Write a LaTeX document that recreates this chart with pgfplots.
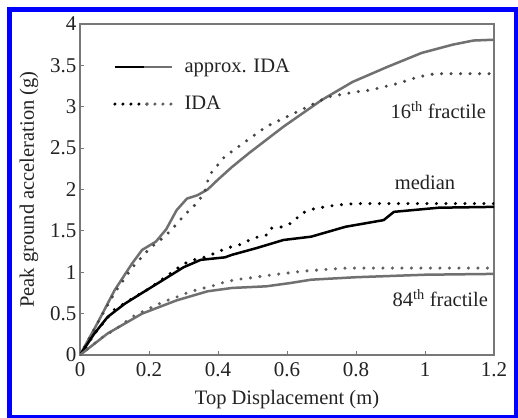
\documentclass[border=0pt]{standalone}
\usepackage{pgfplots}
\pgfplotsset{compat=1.18}
\usepackage{fontspec}
\setmainfont{Liberation Serif}
\definecolor{frameblue}{RGB}{0,0,255}
\definecolor{apgray}{RGB}{112,112,112}
\definecolor{idagray}{RGB}{70,70,70}
\definecolor{idagrayl}{RGB}{95,95,95}
\definecolor{axgray}{RGB}{120,120,120}
\definecolor{txt}{RGB}{35,35,35}
\begin{document}
\begin{tikzpicture}
\useasboundingbox (0,0) rectangle (518pt,417pt);
\fill[white] (0,0) rectangle (518pt,417pt);
\begin{axis}[
  at={(80pt,62pt)}, anchor=south west,
  scale only axis, width=414pt, height=331pt,
  xmin=0, xmax=1.2, ymin=0, ymax=4,
  xtick={0,0.2,...,1.2}, ytick={0,0.5,...,4},
  xticklabels={0,0.2,0.4,0.6,0.8,1,1.2},
  yticklabels={0,0.5,1,1.5,2,2.5,3,3.5,4},
  xtick pos=bottom, ytick pos=left, tick align=inside,
  major tick length=4pt,
  axis line style={axgray, line width=1.5pt},
  every tick/.style={axgray, line width=1pt},
  /pgf/number format/assume math mode=true,
  tick label style={font=\fontsize{21}{23}\selectfont, text=txt},
  xticklabel style={yshift=-4pt},
  label style={font=\fontsize{20.5}{23}\selectfont, text=txt},
  xlabel={Top Displacement (m)},
  ylabel={Peak ground acceleration (g)},
  xlabel style={at={(axis description cs:0.5,-0.136)}, anchor=center},
  ylabel style={at={(axis description cs:-0.123,0.5)}, anchor=center},
  legend cell align=left,
  legend style={draw=none, fill=none, at={(axis description cs:0.0797,0.814)}, anchor=west,
    inner sep=0pt, row sep=19pt, font=\fontsize{20.5}{23}\selectfont,
    nodes={inner sep=0pt, text height=14pt, text depth=4pt, text=txt},
    /tikz/every odd column/.append style={column sep=11pt}},
]
\addlegendimage{legend image code/.code={
  \draw[black, line width=2.5pt] (0pt,0pt) -- (30pt,0pt);
  \draw[apgray, line width=2.5pt] (29pt,0pt) -- (57pt,0pt);}}
\addlegendentry{approx. IDA}
\addlegendimage{legend image code/.code={
  \draw[black, line width=3.4pt, line cap=round, dash pattern=on 0pt off 8pt] (0pt,0pt) -- (33pt,0pt);
  \draw[idagrayl, line width=3.4pt, line cap=round, dash pattern=on 0pt off 8pt] (32pt,0pt) -- (57pt,0pt);}}
\addlegendentry{IDA}

% 16th fractile approx
\addplot[apgray, line width=2.5pt, forget plot] coordinates {
(0,0)(0.05,0.38)(0.1,0.78)(0.15,1.1)(0.18,1.27)(0.22,1.37)(0.25,1.52)(0.28,1.75)
(0.31,1.89)(0.34,1.93)(0.37,2.0)(0.40,2.12)(0.44,2.27)(0.49,2.44)(0.59,2.76)
(0.70,3.08)(0.79,3.30)(0.89,3.48)(0.99,3.65)(1.08,3.75)(1.14,3.80)(1.2,3.81)};
% 16th fractile IDA
\addplot[idagray, line width=3.4pt, line cap=round, dash pattern=on 0pt off 9.5pt, forget plot] coordinates {
(0,0)(0.05,0.38)(0.1,0.75)(0.15,1.05)(0.2,1.28)(0.25,1.45)(0.28,1.58)(0.30,1.68)
(0.33,1.80)(0.36,1.95)(0.37,2.10)(0.38,2.20)(0.42,2.40)(0.48,2.58)(0.54,2.76)
(0.60,2.88)(0.67,3.02)(0.72,3.12)(0.80,3.18)(0.84,3.20)(0.92,3.28)(0.98,3.36)
(1.03,3.40)(1.2,3.40)};
% median approx
\addplot[black, line width=2.5pt, forget plot] coordinates {
(0,0)(0.04,0.25)(0.08,0.46)(0.13,0.62)(0.18,0.75)(0.25,0.93)(0.30,1.06)(0.35,1.15)
(0.42,1.18)(0.44,1.21)(0.51,1.29)(0.59,1.39)(0.67,1.43)(0.77,1.55)(0.88,1.63)
(0.91,1.73)(1.04,1.78)(1.2,1.79)};
% median IDA
\addplot[black, line width=3.4pt, line cap=round, dash pattern=on 0pt off 9.5pt, forget plot] coordinates {
(0,0)(0.05,0.30)(0.1,0.55)(0.15,0.68)(0.2,0.80)(0.25,0.95)(0.30,1.10)(0.33,1.15)
(0.37,1.19)(0.40,1.25)(0.44,1.31)(0.47,1.34)(0.50,1.41)(0.54,1.45)(0.55,1.53)
(0.59,1.55)(0.62,1.61)(0.64,1.71)(0.68,1.77)(0.71,1.79)(0.74,1.81)(0.80,1.83)(1.2,1.83)};
% 84th approx
\addplot[apgray, line width=2.5pt, forget plot] coordinates {
(0,0)(0.08,0.26)(0.18,0.50)(0.28,0.66)(0.37,0.77)(0.44,0.81)(0.54,0.83)(0.61,0.87)
(0.67,0.91)(0.80,0.94)(1.0,0.97)(1.2,0.98)};
% 84th IDA
\addplot[idagrayl, line width=3.4pt, line cap=round, dash pattern=on 0pt off 9.5pt, forget plot] coordinates {
(0,0)(0.06,0.20)(0.12,0.36)(0.15,0.46)(0.18,0.52)(0.21,0.58)(0.24,0.64)(0.28,0.70)
(0.31,0.75)(0.34,0.79)(0.38,0.83)(0.41,0.87)(0.45,0.91)(0.49,0.93)(0.56,0.97)
(0.64,1.01)(0.70,1.03)(0.77,1.05)(1.2,1.05)};

\node[anchor=east, text=txt, font=\fontsize{20.5}{23}\selectfont, inner sep=0pt] at (axis cs:1.177,2.96) {16\textsuperscript{th} fractile};
\node[text=txt, font=\fontsize{20.5}{23}\selectfont, inner sep=0pt] at (axis cs:1.0,2.09) {median};
\node[anchor=east, text=txt, font=\fontsize{20.5}{23}\selectfont, inner sep=0pt] at (axis cs:1.183,0.69) {84\textsuperscript{th} fractile};
\end{axis}
\draw[frameblue, line width=5pt] (9.5pt,-0.5pt) rectangle (516.5pt,407.5pt);
\end{tikzpicture}
\end{document}
